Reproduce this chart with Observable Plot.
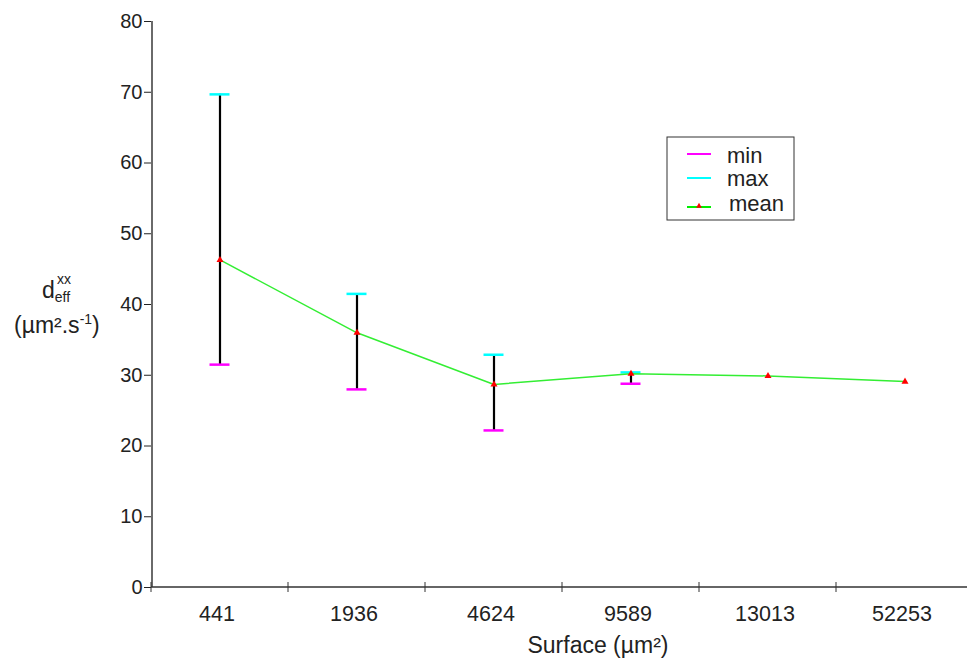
<!DOCTYPE html>
<html><head><meta charset="utf-8">
<script src="https://cdn.jsdelivr.net/npm/d3@7"></script>
<script src="https://cdn.jsdelivr.net/npm/@observablehq/plot@0.6"></script>
<style>
body{margin:0;background:#fff;font-family:"Liberation Sans",Arial,sans-serif}
g[aria-label="y-axis tick label"]{font-size:20px}
g[aria-label="x-axis tick label"]{font-size:21.5px}
</style>
</head><body><div id="chart"></div>
<script>
const surfaces = ["441","1936","4624","9589","13013","52253"];
const minVals  = [31.5, 28.0, 22.2, 28.8, null, null];
const maxVals  = [69.7, 41.5, 32.9, 30.4, null, null];
const meanVals = [46.3, 36.0, 28.7, 30.2, 29.9, 29.1];
const yTicks = [0,10,20,30,40,50,60,70,80];

const data = surfaces.map((s,i)=>({s, min:minVals[i], max:maxVals[i], mean:meanVals[i]}));
const err = data.filter(d=>d.min!=null);

const W=967, H=664, mL=151, mR=-6, mT=21, mB=77;
const bw = (W-mL-mR)/surfaces.length;
const capInset = (bw-20)/2;

const plot = Plot.plot({
  width: W, height: H,
  marginLeft: mL, marginRight: mR, marginTop: mT, marginBottom: mB,
  style: {fontFamily: '"Liberation Sans",Arial,sans-serif', color:"#222", background:"#fff", overflow:"hidden"},
  x: {type:"band", domain: surfaces, padding: 0, label: null},
  y: {domain:[0,80], ticks: yTicks, label: null},
  marks: [
    Plot.axisY({ticks: yTicks, tickSize: 7, tickPadding: 2, stroke:"#222"}),
    Plot.axisX({tickSize: 0, tickPadding: 18, dx:-3}),
    Plot.ruleX(err, {x:"s", y1:"min", y2:"max", stroke:"#000", strokeWidth:2.2}),
    Plot.tickY(err, {x:"s", y:"min", stroke:"#ff00ff", strokeWidth:2.5, insetLeft:capInset, insetRight:capInset}),
    Plot.tickY(err, {x:"s", y:"max", stroke:"#00ffff", strokeWidth:2.5, insetLeft:capInset, insetRight:capInset}),
    Plot.line(data, {x:"s", y:"mean", stroke:"#33ee33", strokeWidth:1.5}),
    Plot.dot(data, {x:"s", y:"mean", symbol:"triangle", r:2.6, fill:"#ff0000", stroke:"none"})
  ]
});

const svg = d3.select(plot);
const xs = plot.scale("x"), ys = plot.scale("y");
const x0 = xs.apply(surfaces[0]);
const y0 = ys.apply(0);
// y axis line (gray)
svg.append("line").attr("x1",x0+1).attr("x2",x0+1)
  .attr("y1",ys.apply(80)).attr("y2",y0).attr("stroke","#6a6a6a").attr("stroke-width",2);
// x boundary ticks
for (let i=0;i<surfaces.length;i++){
  const xb = xs.apply(surfaces[i]);
  svg.append("line").attr("x1",xb).attr("x2",xb).attr("y1",y0-5).attr("y2",y0+5).attr("stroke","#333").attr("stroke-width",1);
}
// x axis line
svg.append("line").attr("x1",x0).attr("x2",W).attr("y1",y0).attr("y2",y0).attr("stroke","#333").attr("stroke-width",1.5);

// axis labels
svg.append("text").attr("x",598).attr("y",653).attr("text-anchor","middle")
  .attr("font-size",23).attr("fill","#222").text("Surface (µm²)");
const yl = svg.append("g").attr("fill","#222").attr("text-anchor","start");
const t1 = yl.append("text").attr("x",42).attr("y",298).attr("font-size",23);
t1.append("tspan").text("d");
t1.append("tspan").attr("font-size",14).attr("dy",4).text("eff");
yl.append("text").attr("x",57).attr("y",284).attr("font-size",14).text("xx");
const t2 = yl.append("text").attr("x",14).attr("y",333).attr("font-size",23);
t2.append("tspan").text("(µm².s");
t2.append("tspan").attr("font-size",14).attr("dy",-9).text("-1");
t2.append("tspan").attr("dy",9).text(")");

// legend
const lg = svg.append("g").attr("text-anchor","start");
lg.append("rect").attr("x",667).attr("y",137).attr("width",127).attr("height",83)
  .attr("fill","#fff").attr("stroke","#333").attr("stroke-width",1);
const items = [["min","#ff00ff",154,727,163],["max","#00ffff",178,727,186],["mean","#00ee00",207,729,211]];
items.forEach(([t,c,y,tx,ty])=>{
  lg.append("line").attr("x1",687).attr("x2",711).attr("y1",y).attr("y2",y).attr("stroke",c).attr("stroke-width",2);
  lg.append("text").attr("x",tx).attr("y",ty).attr("font-size",22).attr("fill","#222").text(t);
});
lg.append("path").attr("d",d3.symbol(d3.symbolTriangle,14)()).attr("transform","translate(699,206)").attr("fill","#ff0000");

document.getElementById("chart").appendChild(plot);
</script></body></html>
